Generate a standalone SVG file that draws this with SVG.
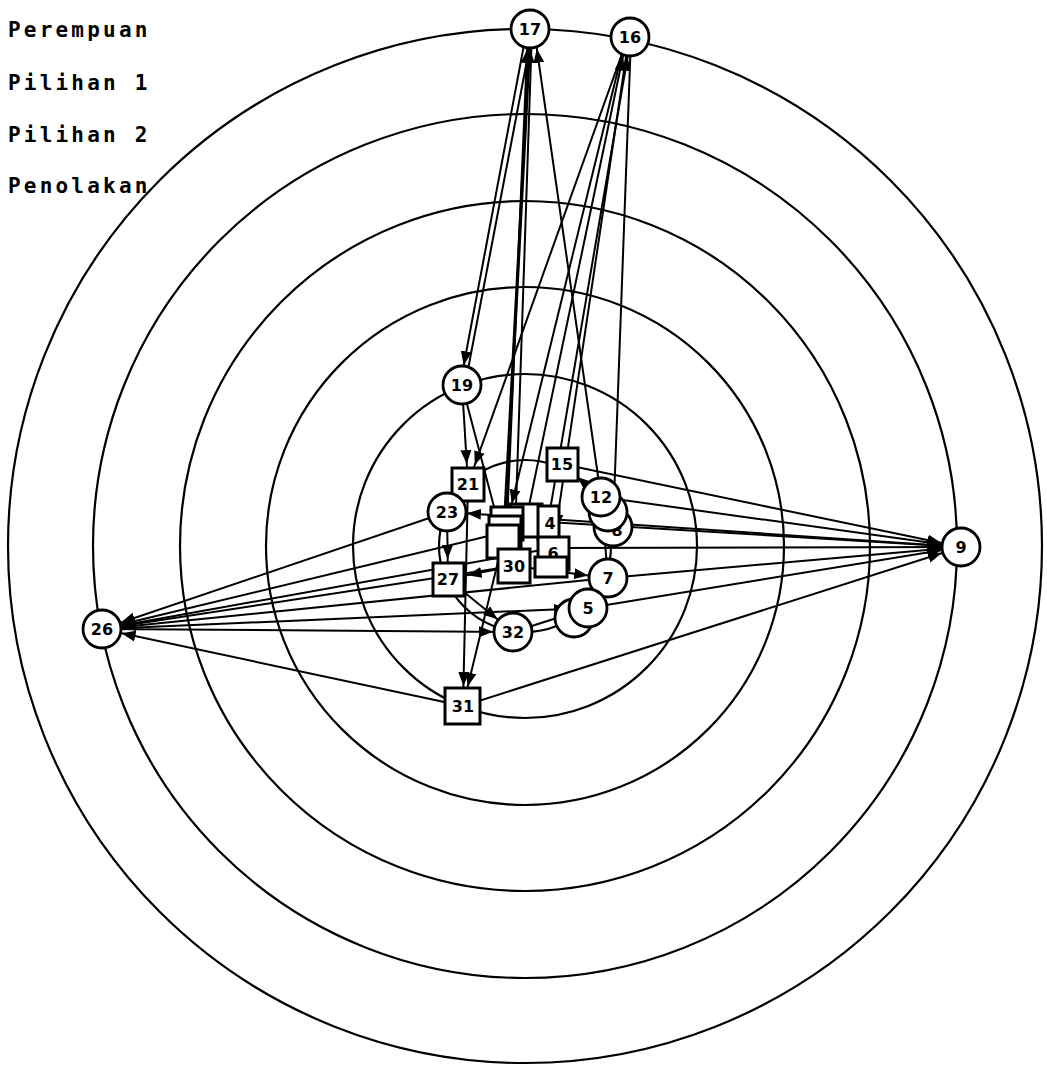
<svg xmlns="http://www.w3.org/2000/svg" width="1047" height="1070" viewBox="0 0 1047 1070">
<style>
.ring{fill:none;stroke:#000;stroke-width:2.2}
.e{stroke:#000;stroke-width:2;fill:none;marker-end:url(#ah)}
.c{fill:#fff;stroke:#000;stroke-width:2.8}
.s{fill:#fff;stroke:#000;stroke-width:3}
.lb{font-family:"DejaVu Sans",sans-serif;font-weight:bold;font-size:16px;text-anchor:middle;fill:#000}
.lg{font-family:"DejaVu Sans Mono",monospace;font-weight:bold;font-size:21px;letter-spacing:3.2px;fill:#000}
</style>
<defs>
<marker id="ah" markerUnits="userSpaceOnUse" markerWidth="36" markerHeight="12" refX="34" refY="6" orient="auto"><path d="M0,0.5 L14,6 L0,11.5 z" fill="#000"/></marker>
</defs>
<rect width="1047" height="1070" fill="#fff"/>
<g id="rings">
<circle class="ring" cx="525" cy="546" r="86"/>
<circle class="ring" cx="525" cy="546" r="172"/>
<circle class="ring" cx="525" cy="546" r="259"/>
<circle class="ring" cx="525" cy="546" r="345"/>
<circle class="ring" cx="525" cy="546" r="432"/>
<circle class="ring" cx="525" cy="546" r="517"/>
</g>
<g id="legend">
<text class="lg" x="8" y="37">Perempuan</text>
<text class="lg" x="8" y="90">Pilihan 1</text>
<text class="lg" x="8" y="142">Pilihan 2</text>
<text class="lg" x="8" y="193">Penolakan</text>
</g>
<g id="connectors">
<line class="e" x1="527" y1="29" x2="460" y2="385"/>
<line class="e" x1="465" y1="385" x2="533" y2="29"/>
<line class="e" x1="507" y1="523" x2="528" y2="29"/>
<line class="e" x1="505" y1="532" x2="531" y2="29"/>
<line class="e" x1="530" y1="29" x2="503" y2="541"/>
<line class="e" x1="532" y1="29" x2="514" y2="566"/>
<line class="e" x1="601" y1="497" x2="534" y2="29"/>
<line class="e" x1="526" y1="520" x2="627" y2="37"/>
<line class="e" x1="548" y1="522" x2="631" y2="37"/>
<line class="e" x1="629" y1="37" x2="553" y2="548"/>
<line class="e" x1="626" y1="37" x2="507" y2="523"/>
<line class="e" x1="631" y1="37" x2="613" y2="527"/>
<line class="e" x1="628" y1="37" x2="468" y2="484"/>
<line class="e" x1="462" y1="385" x2="468" y2="484"/>
<line class="e" x1="462" y1="385" x2="503" y2="541"/>
<line class="e" x1="468" y1="484" x2="463" y2="706"/>
<line class="e" x1="503" y1="541" x2="463" y2="706"/>
<line class="e" x1="961" y1="547" x2="447" y2="512"/>
<line class="e" x1="447" y1="512" x2="102" y2="629"/>
<line class="e" x1="447" y1="512" x2="448" y2="579"/>
<line class="e" x1="468" y1="484" x2="447" y2="512"/>
<line class="e" x1="505" y1="532" x2="102" y2="629"/>
<line class="e" x1="514" y1="566" x2="102" y2="629"/>
<line class="e" x1="553" y1="548" x2="102" y2="629"/>
<line class="e" x1="608" y1="578" x2="102" y2="629"/>
<line class="e" x1="102" y1="629" x2="588" y2="608"/>
<line class="e" x1="102" y1="629" x2="513" y2="632"/>
<line class="e" x1="463" y1="706" x2="102" y2="629"/>
<line class="e" x1="562" y1="464" x2="961" y2="547"/>
<line class="e" x1="601" y1="497" x2="961" y2="547"/>
<line class="e" x1="548" y1="522" x2="961" y2="547"/>
<line class="e" x1="553" y1="548" x2="961" y2="547"/>
<line class="e" x1="608" y1="578" x2="961" y2="547"/>
<line class="e" x1="588" y1="608" x2="961" y2="547"/>
<line class="e" x1="463" y1="706" x2="961" y2="547"/>
<line class="e" x1="601" y1="497" x2="562" y2="464"/>
<line class="e" x1="608" y1="578" x2="601" y2="497"/>
<line class="e" x1="514" y1="566" x2="608" y2="578"/>
<line class="e" x1="514" y1="566" x2="448" y2="579"/>
<line class="e" x1="448" y1="579" x2="513" y2="632"/>
<line class="e" x1="513" y1="632" x2="588" y2="608"/>
</g>
<g id="n17"><circle class="c" cx="530" cy="29" r="19"/><text class="lb" x="530" y="35">17</text></g>
<g id="n16"><circle class="c" cx="630" cy="37" r="19"/><text class="lb" x="630" y="43">16</text></g>
<g id="n9"><circle class="c" cx="961" cy="547" r="19"/><text class="lb" x="961" y="553">9</text></g>
<g id="n26"><circle class="c" cx="102" cy="629" r="19"/><text class="lb" x="102" y="635">26</text></g>
<g id="n19"><circle class="c" cx="462" cy="385" r="19"/><text class="lb" x="462" y="391">19</text></g>
<g id="n21"><rect class="s" x="452" y="468" width="32" height="33"/><text class="lb" x="468" y="490">21</text></g>
<g id="n23"><circle class="c" cx="447" cy="512" r="19"/><text class="lb" x="447" y="518">23</text></g>
<g id="n15"><rect class="s" x="547" y="448" width="31" height="33"/><text class="lb" x="562" y="470">15</text></g>
<g id="n12c"><circle class="c" cx="613" cy="527" r="19"/><text class="lb" x="617" y="536">8</text></g>
<g id="n12b"><circle class="c" cx="608" cy="512" r="19"/></g>
<g id="n12"><circle class="c" cx="601" cy="497" r="19"/><text class="lb" x="601" y="503">12</text></g>
<g id="nsD"><rect class="s" x="510" y="504" width="32" height="33"/></g>
<g id="nsA"><rect class="s" x="491" y="507" width="32" height="33"/></g>
<g id="nsB"><rect class="s" x="489" y="516" width="32" height="33"/></g>
<g id="nsC"><rect class="s" x="487" y="525" width="32" height="33"/></g>
<g id="n4"><rect class="s" x="538" y="506" width="21" height="33"/><text class="lb" x="550" y="529">4</text></g>
<g id="n6"><rect class="s" x="538" y="537" width="31" height="33"/><text class="lb" x="553" y="559">6</text></g>
<g id="nsE"><rect class="s" x="535" y="557" width="32" height="20"/></g>
<g id="n30"><rect class="s" x="498" y="549" width="32" height="34"/><text class="lb" x="514" y="572">30</text></g>
<g id="n27"><rect class="s" x="433" y="563" width="31" height="33"/><text class="lb" x="448" y="585">27</text></g>
<g id="n5b"><circle class="c" cx="574" cy="618" r="19"/></g>
<g id="n7"><circle class="c" cx="608" cy="578" r="19"/><text class="lb" x="608" y="584">7</text></g>
<g id="n5"><circle class="c" cx="588" cy="608" r="19"/><text class="lb" x="588" y="614">5</text></g>
<g id="n32"><circle class="c" cx="513" cy="632" r="19"/><text class="lb" x="513" y="638">32</text></g>
<g id="n31"><rect class="s" x="445" y="688" width="35" height="36"/><text class="lb" x="463" y="712">31</text></g>
</svg>
